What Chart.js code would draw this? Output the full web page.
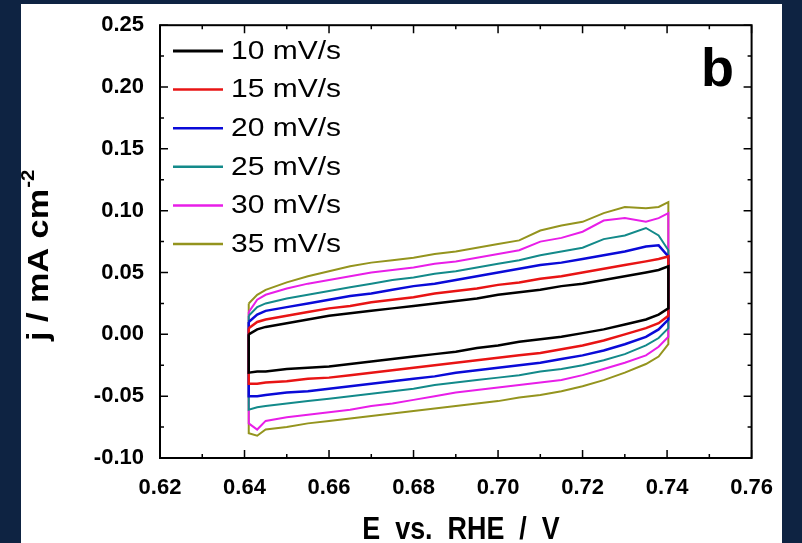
<!DOCTYPE html>
<html>
<head>
<meta charset="utf-8">
<script src="https://cdn.jsdelivr.net/npm/chart.js@4.4.1/dist/chart.umd.min.js"></script>
<style>
  html, body { margin: 0; padding: 0; background: #0e2342; }
  body { width: 802px; height: 543px; position: relative; overflow: hidden; }
  #wrap { position: absolute; left: 21px; top: 4px; width: 761px; height: 539px; background: #fff; }
</style>
</head>
<body>
<div id="wrap"><canvas id="cv" width="761" height="539"></canvas></div>
<script>
// potential grid (V vs RHE), shared by every scan
const potentials = [0.641, 0.643, 0.645, 0.650, 0.655, 0.660, 0.665, 0.670, 0.675, 0.680, 0.685, 0.690,
                    0.695, 0.700, 0.705, 0.710, 0.715, 0.720, 0.725, 0.730, 0.735, 0.738, 0.7403];

const rates = ['10 mV/s', '15 mV/s', '20 mV/s', '25 mV/s', '30 mV/s', '35 mV/s'];
const colors = ['#000000', '#e81414', '#0a0ad8', '#138a8a', '#e81ee8', '#94941e'];

// anodic (upper) and cathodic (lower) branches, j in mA cm-2
const anodic10   = [0.000, 0.004, 0.006, 0.009, 0.012, 0.015, 0.017, 0.019, 0.021, 0.023, 0.025, 0.027,
                    0.029, 0.032, 0.034, 0.036, 0.039, 0.041, 0.044, 0.047, 0.050, 0.052, 0.055];
const cathodic10 = [-0.031, -0.030, -0.030, -0.028, -0.027, -0.026, -0.024, -0.022, -0.020, -0.018, -0.016, -0.014,
                    -0.011, -0.009, -0.006, -0.004, -0.002, 0.001, 0.004, 0.008, 0.012, 0.016, 0.021];
const anodic15   = [0.005, 0.010, 0.012, 0.015, 0.018, 0.021, 0.023, 0.026, 0.028, 0.030, 0.033, 0.035,
                    0.037, 0.040, 0.042, 0.045, 0.047, 0.050, 0.053, 0.056, 0.059, 0.061, 0.063];
const cathodic15 = [-0.040, -0.040, -0.039, -0.038, -0.036, -0.035, -0.033, -0.031, -0.029, -0.027, -0.025, -0.023,
                    -0.021, -0.019, -0.017, -0.015, -0.012, -0.009, -0.005, 0.000, 0.005, 0.009, 0.015];
const anodic20   = [0.010, 0.016, 0.019, 0.022, 0.025, 0.028, 0.031, 0.033, 0.036, 0.039, 0.041, 0.044,
                    0.047, 0.050, 0.053, 0.056, 0.058, 0.061, 0.064, 0.067, 0.071, 0.072, 0.063];
const cathodic20 = [-0.050, -0.050, -0.049, -0.047, -0.046, -0.044, -0.042, -0.040, -0.038, -0.036, -0.034, -0.031,
                    -0.029, -0.027, -0.025, -0.023, -0.020, -0.017, -0.013, -0.008, -0.002, 0.004, 0.012];
const anodic25   = [0.015, 0.022, 0.025, 0.029, 0.032, 0.035, 0.038, 0.041, 0.044, 0.046, 0.049, 0.051,
                    0.054, 0.057, 0.060, 0.064, 0.067, 0.070, 0.077, 0.080, 0.086, 0.080, 0.068];
const cathodic25 = [-0.061, -0.059, -0.058, -0.056, -0.054, -0.052, -0.050, -0.048, -0.046, -0.044, -0.041, -0.039,
                    -0.037, -0.035, -0.033, -0.030, -0.028, -0.025, -0.021, -0.016, -0.009, -0.003, 0.005];
const anodic30   = [0.018, 0.028, 0.032, 0.037, 0.041, 0.044, 0.047, 0.050, 0.052, 0.054, 0.057, 0.059,
                    0.062, 0.065, 0.068, 0.075, 0.078, 0.083, 0.092, 0.094, 0.091, 0.094, 0.098];
const cathodic30 = [-0.072, -0.077, -0.070, -0.067, -0.065, -0.063, -0.061, -0.058, -0.056, -0.053, -0.050, -0.047,
                    -0.045, -0.043, -0.041, -0.039, -0.037, -0.033, -0.028, -0.023, -0.017, -0.010, -0.002];
const anodic35   = [0.025, 0.032, 0.036, 0.042, 0.047, 0.051, 0.055, 0.058, 0.060, 0.062, 0.065, 0.067,
                    0.070, 0.073, 0.076, 0.084, 0.088, 0.091, 0.098, 0.103, 0.102, 0.103, 0.107];
const cathodic35 = [-0.080, -0.082, -0.077, -0.075, -0.072, -0.070, -0.068, -0.066, -0.064, -0.062, -0.060, -0.058,
                    -0.056, -0.054, -0.051, -0.049, -0.046, -0.042, -0.037, -0.031, -0.024, -0.018, -0.008];

const anodic = [anodic10, anodic15, anodic20, anodic25, anodic30, anodic35];
const cathodic = [cathodic10, cathodic15, cathodic20, cathodic25, cathodic30, cathodic35];

const xTicks = [0.62, 0.64, 0.66, 0.68, 0.70, 0.72, 0.74, 0.76];
const yTicks = [-0.10, -0.05, 0.00, 0.05, 0.10, 0.15, 0.20, 0.25];

const xTitle = 'E vs. RHE / V';
const yTitle = 'j / mA cm';
const ySup = '-2';
const panelLabel = 'b';

// closed CV loop: forward sweep, then back along the cathodic branch
function cvLoop(up, down) {
  const pts = potentials.map((e, i) => ({ x: e, y: up[i] }));
  for (let i = potentials.length - 1; i >= 0; i--) pts.push({ x: potentials[i], y: down[i] });
  pts.push(pts[0]);
  return pts;
}

const decor = {
  id: 'decor',
  afterDraw(chart) {
    const { ctx, chartArea: a, scales: { x, y } } = chart;
    ctx.save();
    ctx.strokeStyle = '#000';
    ctx.lineWidth = 2;
    ctx.strokeRect(a.left, a.top, a.right - a.left, a.bottom - a.top);

    // inward ticks on all four sides
    ctx.lineWidth = 1.5;
    ctx.beginPath();
    xTicks.forEach((v, i) => {
      const px = x.getPixelForValue(v);
      ctx.moveTo(px, a.bottom); ctx.lineTo(px, a.bottom - 8);
      ctx.moveTo(px, a.top); ctx.lineTo(px, a.top + 8);
      if (i < xTicks.length - 1) {
        const m = x.getPixelForValue((v + xTicks[i + 1]) / 2);
        ctx.moveTo(m, a.bottom); ctx.lineTo(m, a.bottom - 4);
        ctx.moveTo(m, a.top); ctx.lineTo(m, a.top + 4);
      }
    });
    yTicks.forEach((v, i) => {
      const py = y.getPixelForValue(v);
      ctx.moveTo(a.left, py); ctx.lineTo(a.left + 8, py);
      ctx.moveTo(a.right, py); ctx.lineTo(a.right - 8, py);
      if (i < yTicks.length - 1) {
        const m = y.getPixelForValue((v + yTicks[i + 1]) / 2);
        ctx.moveTo(a.left, m); ctx.lineTo(a.left + 4, m);
        ctx.moveTo(a.right, m); ctx.lineTo(a.right - 4, m);
      }
    });
    ctx.stroke();

    // legend, top-left inside the frame
    ctx.font = '25px "Liberation Sans", Arial, sans-serif';
    ctx.textBaseline = 'middle';
    ctx.textAlign = 'left';
    ctx.fillStyle = '#000';
    chart.data.datasets.forEach((ds, i) => {
      const ly = 47 + i * 38.6;
      ctx.strokeStyle = ds.borderColor;
      ctx.lineWidth = i === 0 ? 3 : 2.5;
      ctx.beginPath();
      ctx.moveTo(152, ly); ctx.lineTo(202, ly);
      ctx.stroke();
      ctx.save();
      ctx.translate(210, ly + 1);
      ctx.scale(1.2, 1);
      ctx.fillText(ds.label, 0, 0);
      ctx.restore();
    });

    // panel label
    ctx.font = 'bold 54px "Liberation Sans", Arial, sans-serif';
    ctx.textBaseline = 'alphabetic';
    ctx.fillText(panelLabel, 680, 82);

    // x title (condensed)
    ctx.save();
    ctx.translate(440, 535);
    ctx.scale(0.84, 1);
    ctx.font = 'bold 32px "Liberation Sans", Arial, sans-serif';
    ctx.textAlign = 'center';
    ctx.wordSpacing = '9px';
    ctx.fillText(xTitle, 0, 0);
    ctx.restore();

    // y title (rotated) with superscript
    ctx.save();
    ctx.translate(27, 337);
    ctx.rotate(-Math.PI / 2);
    ctx.scale(1.14, 1);
    ctx.font = 'bold 30px "Liberation Sans", Arial, sans-serif';
    ctx.textAlign = 'left';
    ctx.fillText(yTitle, 0, 0);
    const w = ctx.measureText(yTitle).width;
    ctx.font = 'bold 18px "Liberation Sans", Arial, sans-serif';
    ctx.fillText(ySup, w + 1, -14);
    ctx.restore();

    ctx.restore();
  }
};

const tickFont = { family: '"Liberation Sans", Arial, sans-serif', size: 22, weight: 'bold' };

new Chart(document.getElementById('cv'), {
  type: 'scatter',
  data: {
    datasets: rates.map((r, i) => ({
      label: r,
      data: cvLoop(anodic[i], cathodic[i]),
      showLine: true,
      borderColor: colors[i],
      backgroundColor: colors[i],
      borderWidth: i < 3 ? 2.5 : 2,
      pointRadius: 0,
      tension: 0,
      fill: false
    }))
  },
  options: {
    responsive: false,
    animation: false,
    layout: { padding: { top: 19, right: 25, left: 0, bottom: 0 } },
    plugins: { legend: { display: false }, tooltip: { enabled: false } },
    scales: {
      x: {
        type: 'linear', min: 0.62, max: 0.76,
        grid: { display: false }, border: { display: false },
        afterFit: s => { s.height = 85; },
        afterBuildTicks: s => { s.ticks = xTicks.map(v => ({ value: v })); },
        ticks: { font: tickFont, color: '#000', padding: 9, maxRotation: 0, autoSkip: false,
                 callback: v => v.toFixed(2) }
      },
      y: {
        type: 'linear', min: -0.10, max: 0.25,
        grid: { display: false }, border: { display: false },
        afterFit: s => { s.width = 139; },
        afterBuildTicks: s => { s.ticks = yTicks.map(v => ({ value: v })); },
        ticks: { font: tickFont, color: '#000', padding: 8, autoSkip: false,
                 callback: v => v.toFixed(2) }
      }
    }
  },
  plugins: [decor]
});
</script>
</body>
</html>
